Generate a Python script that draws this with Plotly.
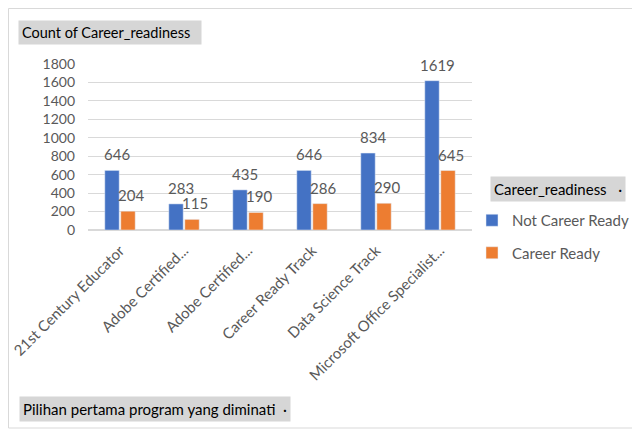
import plotly.graph_objects as go

categories = ["21st Century Educator", "Adobe Certified...", "Adobe Certified...",
              "Career Ready Track", "Data Science Track", "Microsoft Office Specialist..."]
cat_ids = ["c0", "c1", "c2", "c3", "c4", "c5"]
not_ready = [646, 283, 435, 646, 834, 1619]
ready = [204, 115, 190, 286, 290, 645]
series_names = ["Not Career Ready", "Career Ready"]
colors = ["#4472C4", "#ED7D31"]
y_ticks = [0, 200, 400, 600, 800, 1000, 1200, 1400, 1600, 1800]

OFF = 8  # page body margin
W, H = 632, 424
L, T = 88 - OFF, 64 - OFF
pw, ph = 384, 166
R = W - L - pw
B = H - T - ph

def px(x):
    return (x - OFF - L) / pw

def py(y):
    return (T + ph - (y - OFF)) / ph

fig = go.Figure()
for i, (name, vals) in enumerate(zip(series_names, [not_ready, ready])):
    fig.add_trace(go.Bar(x=cat_ids, y=vals, name=name, marker_color=colors[i],
                         legendgroup=name))

font_fam = "Lato, 'Open Sans', sans-serif"
ann = []
for vals, shift in [(not_ready, -3), (ready, 11)]:
    for c, v in zip(cat_ids, vals):
        ann.append(dict(x=c, y=v, xref="x", yref="y", text=str(v), showarrow=False,
                        yanchor="bottom", xshift=shift, yshift=5,
                        font=dict(size=15, color="#595959", family=font_fam)))

ann.append(dict(x=px(18), y=py(33), xref="paper", yref="paper", xanchor="left", yanchor="middle",
                text="Count of Career_readiness  ", showarrow=False, bgcolor="#d6d6d6", borderpad=3,
                font=dict(size=14.5, color="#000000", family=font_fam)))
ann.append(dict(x=px(490), y=py(189), xref="paper", yref="paper", xanchor="left", yanchor="middle",
                text="Career_readiness   ·", showarrow=False, bgcolor="#d6d6d6", borderpad=3,
                font=dict(size=15, color="#000000", family=font_fam)))
ann.append(dict(x=px(19), y=py(409), xref="paper", yref="paper", xanchor="left", yanchor="middle",
                text="Pilihan pertama program yang diminati  ·", showarrow=False, bgcolor="#d6d6d6",
                borderpad=3, font=dict(size=15, color="#000000", family=font_fam)))

fig.update_layout(
    width=W, height=H,
    margin=dict(l=L, r=R, t=T, b=B, autoexpand=False),
    paper_bgcolor="white", plot_bgcolor="white",
    barmode="group", bargap=0.5, bargroupgap=0.1,
    font=dict(family=font_fam, color="#595959", size=14),
    xaxis=dict(tickmode="array", tickvals=cat_ids, ticktext=categories, tickangle=-45,
               automargin=False, ticklabelstandoff=8,
               showgrid=False, showline=False, ticks="", tickfont=dict(size=15, color="#595959")),
    yaxis=dict(range=[0, 1800], tickvals=y_ticks, showgrid=True, gridcolor="#d9d9d9",
               automargin=False, ticklabelstandoff=12,
               zeroline=True, zerolinecolor="#d9d9d9", showline=False, ticks="",
               tickfont=dict(size=14, color="#595959")),
    legend=dict(x=px(472), y=py(204), xanchor="left", yanchor="top", traceorder="grouped",
                tracegroupgap=10, font=dict(size=15, color="#595959", family=font_fam),
                bgcolor="rgba(0,0,0,0)"),
    annotations=ann,
    shapes=[dict(type="rect", xref="paper", yref="paper", x0=px(8.5), x1=px(634), y0=py(428), y1=py(8.5),
                 line=dict(color="#d9d9d9", width=1), layer="below")],
)

fig.write_html("out.html")
